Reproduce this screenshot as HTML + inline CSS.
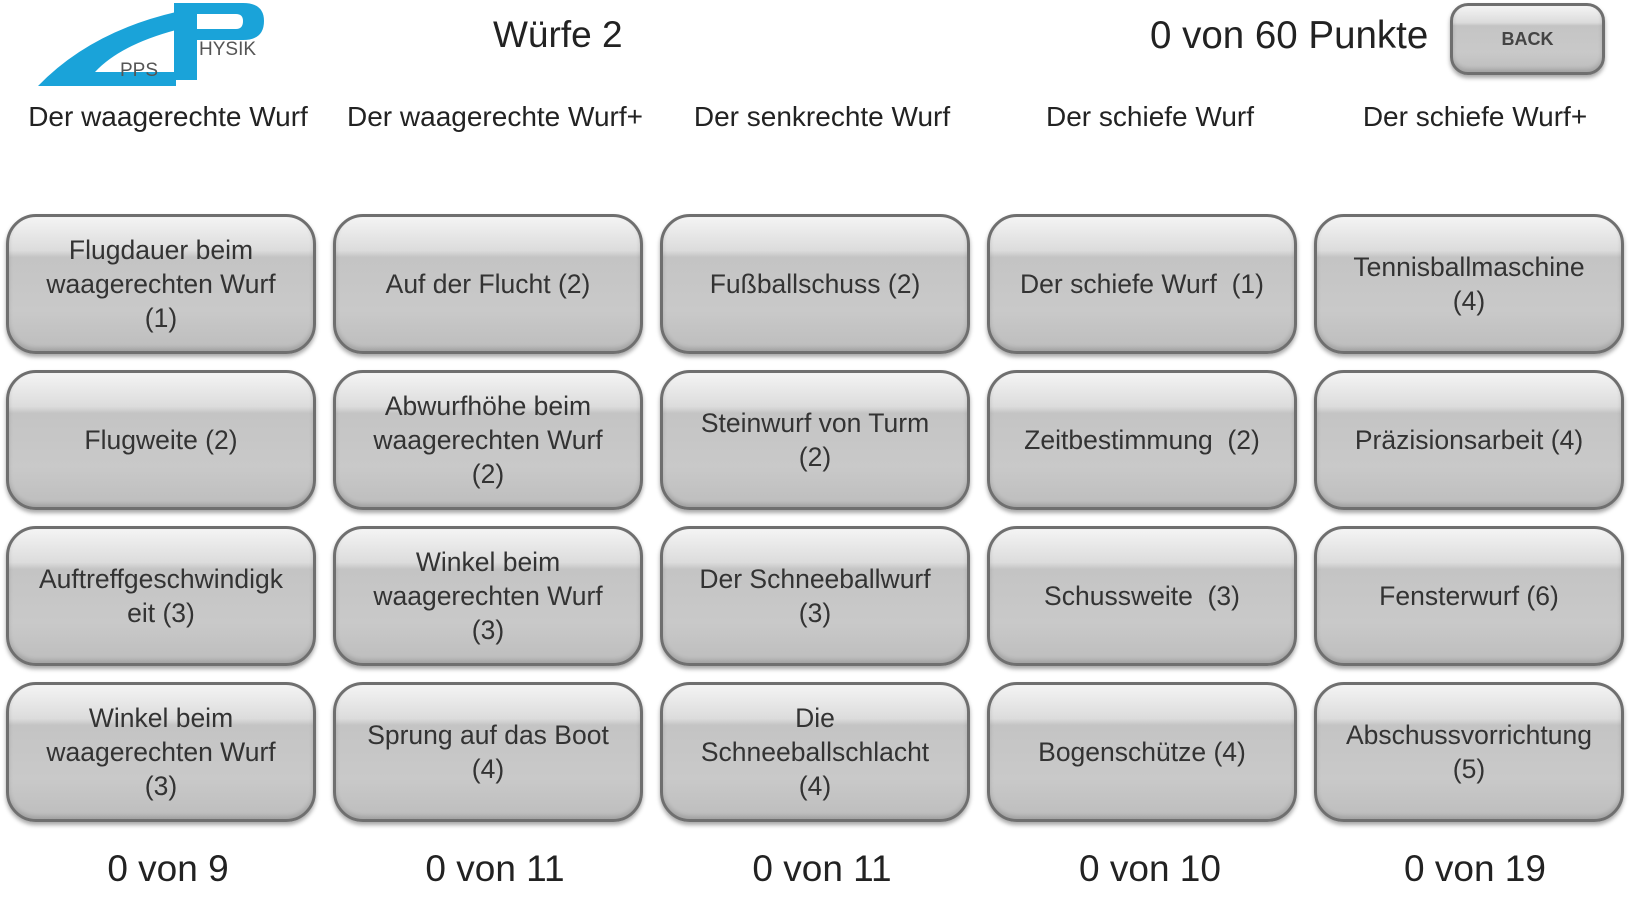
<!DOCTYPE html>
<html><head><meta charset="utf-8"><style>
body{margin:0;width:1640px;height:900px;background:#fff;font-family:"Liberation Sans",sans-serif;position:relative;overflow:hidden}
.t{position:absolute;color:#222;white-space:nowrap}
.btn{position:absolute;width:310px;height:140px;border-radius:30px;border:3px solid #6f6f6f;box-sizing:border-box;
background:linear-gradient(#f4f4f4 0%,#dcdcdc 25%,#c4c4c4 30%,#c9c9c9 70%,#bdbdbd 100%);
box-shadow:0 3px 4px rgba(0,0,0,.35),inset 0 -3px 4px rgba(0,0,0,.15);
display:flex;align-items:center;justify-content:center;text-align:center;font-size:26.5px;line-height:34px;color:#333;white-space:nowrap}
.lab{position:absolute;top:101px;width:320px;text-align:center;font-size:28px;color:#222;white-space:nowrap}
.cnt{position:absolute;top:848px;width:320px;text-align:center;font-size:37px;color:#222}
</style></head><body>
<svg style="position:absolute;left:0;top:0" width="280" height="95">
<path d="M38 86 Q90 32 176 12 L176 30 Q120 45 95 72 L176 72 L176 86 Z" fill="#1aa3d9"/>
<path d="M174 3 L243 3 Q264 3 264 21 Q264 40 243 40 L197 40 L197 80 L174 80 Z M197 14 L197 29 L236 29 Q243 29 243 21 Q243 14 236 14 Z" fill="#1aa3d9"/>
<text x="120" y="76" font-family="Liberation Sans" font-size="19" fill="#555">PPS</text>
<text x="199" y="55" font-family="Liberation Sans" font-size="19" fill="#555">HYSIK</text>
</svg>
<div class="t" style="left:493px;top:14px;font-size:37px">Würfe 2</div>
<div class="t" style="left:1150px;top:14px;font-size:38.5px">0 von 60 Punkte</div>
<div class="btn" style="left:1450px;top:3px;width:155px;height:72px;border-radius:18px;font-size:18px;font-weight:bold;color:#444">BACK</div>
<div class="lab" style="left:8px">Der waagerechte Wurf</div>
<div class="lab" style="left:335px">Der waagerechte Wurf+</div>
<div class="lab" style="left:662px">Der senkrechte Wurf</div>
<div class="lab" style="left:990px">Der schiefe Wurf</div>
<div class="lab" style="left:1315px">Der schiefe Wurf+</div>

<div class="btn" style="left:6px;top:214px">Flugdauer beim<br>waagerechten Wurf<br>(1)</div>
<div class="btn" style="left:333px;top:214px">Auf der Flucht (2)</div>
<div class="btn" style="left:660px;top:214px">Fußballschuss (2)</div>
<div class="btn" style="left:987px;top:214px">Der schiefe Wurf&nbsp; (1)</div>
<div class="btn" style="left:1314px;top:214px">Tennisballmaschine<br>(4)</div>

<div class="btn" style="left:6px;top:370px">Flugweite (2)</div>
<div class="btn" style="left:333px;top:370px">Abwurfhöhe beim<br>waagerechten Wurf<br>(2)</div>
<div class="btn" style="left:660px;top:370px">Steinwurf von Turm<br>(2)</div>
<div class="btn" style="left:987px;top:370px">Zeitbestimmung&nbsp; (2)</div>
<div class="btn" style="left:1314px;top:370px">Präzisionsarbeit (4)</div>

<div class="btn" style="left:6px;top:526px">Auftreffgeschwindigk<br>eit (3)</div>
<div class="btn" style="left:333px;top:526px">Winkel beim<br>waagerechten Wurf<br>(3)</div>
<div class="btn" style="left:660px;top:526px">Der Schneeballwurf<br>(3)</div>
<div class="btn" style="left:987px;top:526px">Schussweite&nbsp; (3)</div>
<div class="btn" style="left:1314px;top:526px">Fensterwurf (6)</div>

<div class="btn" style="left:6px;top:682px">Winkel beim<br>waagerechten Wurf<br>(3)</div>
<div class="btn" style="left:333px;top:682px">Sprung auf das Boot<br>(4)</div>
<div class="btn" style="left:660px;top:682px">Die<br>Schneeballschlacht<br>(4)</div>
<div class="btn" style="left:987px;top:682px">Bogenschütze (4)</div>
<div class="btn" style="left:1314px;top:682px">Abschussvorrichtung<br>(5)</div>

<div class="cnt" style="left:8px">0 von 9</div>
<div class="cnt" style="left:335px">0 von 11</div>
<div class="cnt" style="left:662px">0 von 11</div>
<div class="cnt" style="left:990px">0 von 10</div>
<div class="cnt" style="left:1315px">0 von 19</div>
</body></html>
